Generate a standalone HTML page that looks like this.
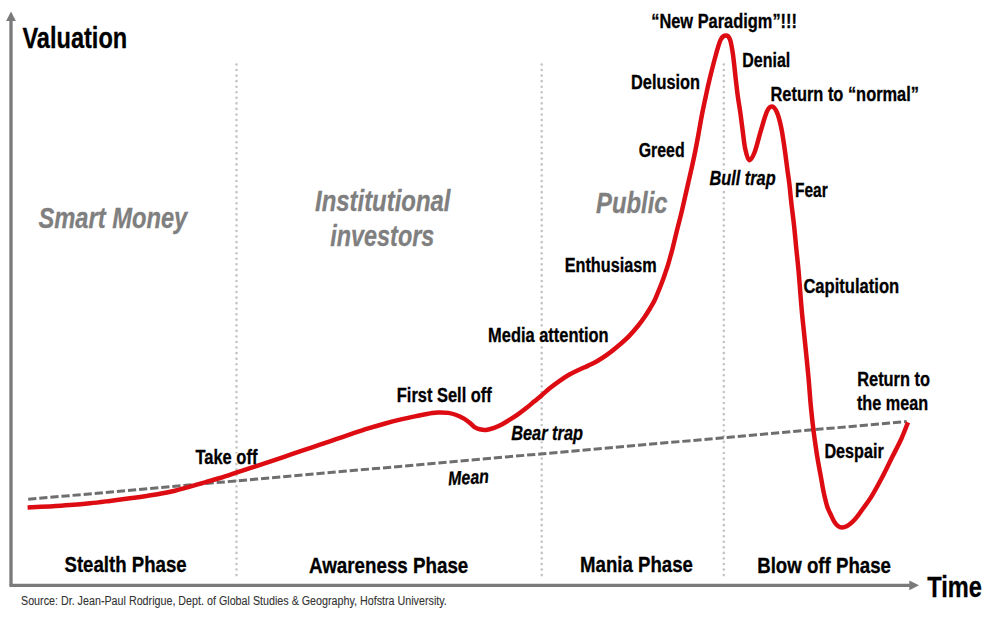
<!DOCTYPE html><html><head><meta charset="utf-8"><style>html,body{margin:0;padding:0;background:#fff;}svg{display:block;} text{font-family:"Liberation Sans",sans-serif;}</style></head><body><svg width="1000" height="621" viewBox="0 0 1000 621">
<rect width="1000" height="621" fill="#fff"/>
<line x1="236.5" y1="64.5" x2="236.5" y2="578" stroke="#c4c4c4" stroke-width="2.6" stroke-linecap="round" stroke-dasharray="0 5.55"/>
<line x1="541.7" y1="64.5" x2="541.7" y2="578" stroke="#c4c4c4" stroke-width="2.6" stroke-linecap="round" stroke-dasharray="0 5.55"/>
<line x1="723.8" y1="64.5" x2="723.8" y2="578" stroke="#c4c4c4" stroke-width="2.6" stroke-linecap="round" stroke-dasharray="0 5.55"/>
<rect x="234.0" y="453.5" width="5" height="9.0" fill="#fff"/>
<rect x="539.2" y="327.5" width="5" height="15.5" fill="#fff"/>
<rect x="539.2" y="426.0" width="5" height="15.5" fill="#fff"/>
<rect x="721.3" y="170.0" width="5" height="20.0" fill="#fff"/>
<line x1="11" y1="19" x2="11" y2="585.3" stroke="#7a7a7a" stroke-width="3.3"/>
<line x1="9.4" y1="585.3" x2="911" y2="585.3" stroke="#7a7a7a" stroke-width="3.3"/>
<path d="M11,11.5 L15.9,21 L6.1,21 Z" fill="#7a7a7a"/>
<path d="M919,585.3 L909.3,580.4 L909.3,590.2 Z" fill="#7a7a7a"/>
<line x1="28.2" y1="499.3" x2="906.7" y2="421.5" stroke="#6e6e6e" stroke-width="3" stroke-dasharray="8.2 2.93" stroke-dashoffset="0"/>
<path d="M27.60,507.50 C31.33,507.32 42.93,506.80 50.00,506.40 C57.07,506.00 63.33,505.62 70.00,505.10 C76.67,504.58 83.33,504.00 90.00,503.30 C96.67,502.60 103.33,501.73 110.00,500.90 C116.67,500.07 124.17,499.08 130.00,498.30 C135.83,497.52 140.00,496.95 145.00,496.20 C150.00,495.45 155.00,494.72 160.00,493.80 C165.00,492.88 170.00,491.90 175.00,490.70 C180.00,489.50 185.00,488.00 190.00,486.60 C195.00,485.20 200.00,483.73 205.00,482.30 C210.00,480.87 214.17,479.82 220.00,478.00 C225.83,476.18 233.98,473.37 240.00,471.40 C246.02,469.43 250.73,467.93 256.10,466.17 C261.47,464.42 266.83,462.64 272.20,460.84 C277.57,459.05 282.93,457.20 288.30,455.39 C293.67,453.57 299.12,451.76 304.40,449.96 C309.68,448.17 314.72,446.42 320.00,444.62 C325.28,442.83 330.73,441.02 336.10,439.19 C341.47,437.37 346.83,435.47 352.20,433.68 C357.57,431.89 362.93,430.09 368.30,428.43 C373.67,426.77 379.12,425.20 384.40,423.73 C389.68,422.26 394.72,420.91 400.00,419.63 C405.28,418.36 410.73,417.20 416.10,416.08 C421.47,414.95 428.18,413.50 432.20,412.90 C436.22,412.30 437.52,412.50 440.20,412.50 C442.88,412.50 445.62,412.48 448.30,412.90 C450.98,413.32 453.62,414.00 456.30,415.00 C458.98,416.00 462.03,417.50 464.40,418.90 C466.77,420.30 468.73,421.98 470.50,423.40 C472.27,424.82 473.47,426.42 475.00,427.40 C476.53,428.38 477.85,428.88 479.70,429.30 C481.55,429.72 483.70,430.15 486.10,429.90 C488.50,429.65 491.42,428.75 494.10,427.80 C496.78,426.85 499.52,425.60 502.20,424.20 C504.88,422.80 507.52,421.08 510.20,419.40 C512.88,417.72 515.62,415.98 518.30,414.10 C520.98,412.22 523.62,410.23 526.30,408.10 C528.98,405.97 531.78,403.48 534.40,401.30 C537.02,399.12 539.45,397.17 542.00,395.00 C544.55,392.83 546.82,390.62 549.70,388.30 C552.58,385.98 556.08,383.35 559.30,381.10 C562.52,378.85 565.78,376.65 569.00,374.80 C572.22,372.95 575.38,371.53 578.60,370.00 C581.82,368.47 585.23,367.07 588.30,365.60 C591.37,364.13 593.97,362.93 597.00,361.20 C600.03,359.47 603.08,357.65 606.50,355.20 C609.92,352.75 613.78,349.65 617.50,346.50 C621.22,343.35 625.40,339.72 628.80,336.30 C632.20,332.88 635.27,329.22 637.90,326.00 C640.53,322.78 642.53,320.00 644.60,317.00 C646.67,314.00 648.65,310.73 650.30,308.00 C651.95,305.27 653.17,303.35 654.50,300.60 C655.83,297.85 657.07,294.52 658.30,291.50 C659.53,288.48 660.77,285.50 661.90,282.50 C663.03,279.50 664.08,276.45 665.10,273.50 C666.12,270.55 667.10,267.72 668.00,264.80 C668.90,261.88 669.72,258.80 670.50,256.00 C671.28,253.20 671.65,252.17 672.70,248.00 C673.75,243.83 675.42,236.58 676.80,231.00 C678.18,225.42 679.68,219.93 681.00,214.50 C682.32,209.07 683.47,203.77 684.70,198.40 C685.93,193.03 687.17,187.68 688.40,182.30 C689.63,176.92 690.95,171.32 692.10,166.10 C693.25,160.88 694.23,156.35 695.30,151.00 C696.37,145.65 697.42,139.92 698.50,134.00 C699.58,128.08 700.63,121.55 701.80,115.50 C702.97,109.45 704.23,103.62 705.50,97.70 C706.77,91.78 707.63,87.28 709.40,80.00 C711.17,72.72 714.20,60.75 716.10,54.00 C718.00,47.25 719.17,42.57 720.80,39.50 C722.43,36.43 724.37,35.60 725.90,35.60 C727.43,35.60 728.83,36.43 730.00,39.50 C731.17,42.57 731.97,47.63 732.90,54.00 C733.83,60.37 734.80,70.78 735.60,77.70 C736.40,84.62 736.90,89.58 737.70,95.50 C738.50,101.42 739.57,107.30 740.40,113.20 C741.23,119.10 741.90,124.98 742.70,130.90 C743.50,136.82 744.10,143.82 745.20,148.70 C746.30,153.58 747.73,159.62 749.30,160.20 C750.87,160.78 752.68,157.08 754.60,152.20 C756.52,147.32 758.73,137.70 760.80,130.90 C762.87,124.10 765.13,115.47 767.00,111.40 C768.87,107.33 770.33,106.32 772.00,106.50 C773.67,106.68 775.48,109.08 777.00,112.50 C778.52,115.92 779.88,121.35 781.10,127.00 C782.32,132.65 783.23,139.15 784.30,146.40 C785.37,153.65 786.63,164.07 787.50,170.50 C788.37,176.93 788.87,179.67 789.50,185.00 C790.13,190.33 790.55,195.83 791.30,202.50 C792.05,209.17 793.18,217.48 794.00,225.00 C794.82,232.52 795.45,240.08 796.20,247.60 C796.95,255.12 797.82,262.60 798.50,270.10 C799.18,277.60 799.72,285.45 800.30,292.60 C800.88,299.75 801.38,306.35 802.00,313.00 C802.62,319.65 803.28,325.50 804.00,332.50 C804.72,339.50 805.55,347.48 806.30,355.00 C807.05,362.52 807.82,369.88 808.50,377.60 C809.18,385.32 809.90,395.47 810.40,401.30 C810.90,407.13 811.12,408.85 811.50,412.60 C811.88,416.35 812.27,420.05 812.70,423.80 C813.13,427.55 813.60,431.33 814.10,435.10 C814.60,438.87 815.15,442.63 815.70,446.40 C816.25,450.17 816.78,453.93 817.40,457.70 C818.02,461.47 818.77,465.52 819.40,469.00 C820.03,472.48 820.62,475.38 821.20,478.60 C821.78,481.82 822.35,485.40 822.90,488.30 C823.45,491.20 823.77,492.92 824.50,496.00 C825.23,499.08 826.28,503.75 827.30,506.80 C828.32,509.85 829.45,511.83 830.60,514.30 C831.75,516.77 832.97,519.65 834.20,521.60 C835.43,523.55 836.72,525.03 838.00,526.00 C839.28,526.97 840.38,527.42 841.90,527.40 C843.42,527.38 845.38,526.78 847.10,525.90 C848.82,525.02 850.48,523.70 852.20,522.10 C853.92,520.50 855.68,518.45 857.40,516.30 C859.12,514.15 860.17,512.48 862.50,509.20 C864.83,505.92 868.23,501.72 871.40,496.60 C874.57,491.48 878.13,484.88 881.50,478.50 C884.87,472.12 888.25,465.02 891.60,458.30 C894.95,451.58 898.87,444.20 901.60,438.20 C904.33,432.20 906.93,424.95 908.00,422.30" fill="none" stroke="#dc0c12" stroke-width="4.5" stroke-linejoin="round" stroke-linecap="butt"/>
<g font-family="Liberation Sans, sans-serif">
<text x="22.40" y="47.60" font-size="28.60" font-weight="bold" font-style="normal" fill="#000" stroke="#000" stroke-width="0.30" textLength="104.80" lengthAdjust="spacingAndGlyphs">Valuation</text>
<text x="927.20" y="597.10" font-size="30.00" font-weight="bold" font-style="normal" fill="#000" stroke="#000" stroke-width="0.30" textLength="54.70" lengthAdjust="spacingAndGlyphs">Time</text>
<text x="38.50" y="228.30" font-size="29.50" font-weight="bold" font-style="italic" fill="#7f7f7f" stroke="#7f7f7f" stroke-width="0.30" textLength="148.80" lengthAdjust="spacingAndGlyphs">Smart Money</text>
<text x="315.00" y="210.60" font-size="29.50" font-weight="bold" font-style="italic" fill="#7f7f7f" stroke="#7f7f7f" stroke-width="0.30" textLength="135.50" lengthAdjust="spacingAndGlyphs">Institutional</text>
<text x="330.30" y="245.80" font-size="29.50" font-weight="bold" font-style="italic" fill="#7f7f7f" stroke="#7f7f7f" stroke-width="0.30" textLength="104.00" lengthAdjust="spacingAndGlyphs">investors</text>
<text x="596.00" y="212.80" font-size="29.50" font-weight="bold" font-style="italic" fill="#7f7f7f" stroke="#7f7f7f" stroke-width="0.30" textLength="71.50" lengthAdjust="spacingAndGlyphs">Public</text>
<text x="651.20" y="27.60" font-size="19.50" font-weight="bold" font-style="normal" fill="#000" stroke="#000" stroke-width="0.30" textLength="145.80" lengthAdjust="spacingAndGlyphs">“New Paradigm”!!!</text>
<text x="742.30" y="66.60" font-size="19.50" font-weight="bold" font-style="normal" fill="#000" stroke="#000" stroke-width="0.30" textLength="48.00" lengthAdjust="spacingAndGlyphs">Denial</text>
<text x="631.00" y="88.85" font-size="19.50" font-weight="bold" font-style="normal" fill="#000" stroke="#000" stroke-width="0.30" textLength="69.10" lengthAdjust="spacingAndGlyphs">Delusion</text>
<text x="638.70" y="157.25" font-size="19.50" font-weight="bold" font-style="normal" fill="#000" stroke="#000" stroke-width="0.30" textLength="45.90" lengthAdjust="spacingAndGlyphs">Greed</text>
<text x="770.50" y="101.25" font-size="19.50" font-weight="bold" font-style="normal" fill="#000" stroke="#000" stroke-width="0.30" textLength="148.50" lengthAdjust="spacingAndGlyphs">Return to “normal”</text>
<text x="709.50" y="184.50" font-size="19.50" font-weight="bold" font-style="italic" fill="#000" stroke="#000" stroke-width="0.30" textLength="66.10" lengthAdjust="spacingAndGlyphs">Bull trap</text>
<text x="795.00" y="196.70" font-size="19.50" font-weight="bold" font-style="normal" fill="#000" stroke="#000" stroke-width="0.30" textLength="32.70" lengthAdjust="spacingAndGlyphs">Fear</text>
<text x="564.70" y="271.70" font-size="19.50" font-weight="bold" font-style="normal" fill="#000" stroke="#000" stroke-width="0.30" textLength="92.10" lengthAdjust="spacingAndGlyphs">Enthusiasm</text>
<text x="803.40" y="292.80" font-size="19.50" font-weight="bold" font-style="normal" fill="#000" stroke="#000" stroke-width="0.30" textLength="95.80" lengthAdjust="spacingAndGlyphs">Capitulation</text>
<text x="488.10" y="341.70" font-size="19.50" font-weight="bold" font-style="normal" fill="#000" stroke="#000" stroke-width="0.30" textLength="120.50" lengthAdjust="spacingAndGlyphs">Media attention</text>
<text x="857.20" y="386.00" font-size="19.50" font-weight="bold" font-style="normal" fill="#000" stroke="#000" stroke-width="0.30" textLength="72.80" lengthAdjust="spacingAndGlyphs">Return to</text>
<text x="856.90" y="410.10" font-size="19.50" font-weight="bold" font-style="normal" fill="#000" stroke="#000" stroke-width="0.30" textLength="71.20" lengthAdjust="spacingAndGlyphs">the mean</text>
<text x="396.80" y="402.00" font-size="19.50" font-weight="bold" font-style="normal" fill="#000" stroke="#000" stroke-width="0.30" textLength="95.00" lengthAdjust="spacingAndGlyphs">First Sell off</text>
<text x="511.20" y="439.50" font-size="19.50" font-weight="bold" font-style="italic" fill="#000" stroke="#000" stroke-width="0.30" textLength="71.80" lengthAdjust="spacingAndGlyphs">Bear trap</text>
<text x="195.40" y="463.60" font-size="19.50" font-weight="bold" font-style="normal" fill="#000" stroke="#000" stroke-width="0.30" textLength="62.00" lengthAdjust="spacingAndGlyphs">Take off</text>
<text x="824.40" y="458.00" font-size="19.50" font-weight="bold" font-style="normal" fill="#000" stroke="#000" stroke-width="0.30" textLength="59.40" lengthAdjust="spacingAndGlyphs">Despair</text>
<text x="448.20" y="484.00" font-size="19.50" font-weight="bold" font-style="italic" fill="#000" stroke="#000" stroke-width="0.30" transform="rotate(-3.50 468.55 478.50)" textLength="40.70" lengthAdjust="spacingAndGlyphs">Mean</text>
<text x="64.50" y="572.40" font-size="21.50" font-weight="bold" font-style="normal" fill="#000" stroke="#000" stroke-width="0.30" textLength="122.10" lengthAdjust="spacingAndGlyphs">Stealth Phase</text>
<text x="309.00" y="572.50" font-size="21.50" font-weight="bold" font-style="normal" fill="#000" stroke="#000" stroke-width="0.30" textLength="159.30" lengthAdjust="spacingAndGlyphs">Awareness Phase</text>
<text x="580.10" y="572.40" font-size="21.50" font-weight="bold" font-style="normal" fill="#000" stroke="#000" stroke-width="0.30" textLength="112.80" lengthAdjust="spacingAndGlyphs">Mania Phase</text>
<text x="757.20" y="572.50" font-size="21.50" font-weight="bold" font-style="normal" fill="#000" stroke="#000" stroke-width="0.30" textLength="133.80" lengthAdjust="spacingAndGlyphs">Blow off Phase</text>
<text x="21.00" y="604.60" font-size="12.30" font-weight="normal" font-style="normal" fill="#333" stroke="#333" stroke-width="0.10" textLength="425.80" lengthAdjust="spacingAndGlyphs">Source: Dr. Jean-Paul Rodrigue, Dept. of Global Studies &amp; Geography, Hofstra University.</text>
</g></svg></body></html>
